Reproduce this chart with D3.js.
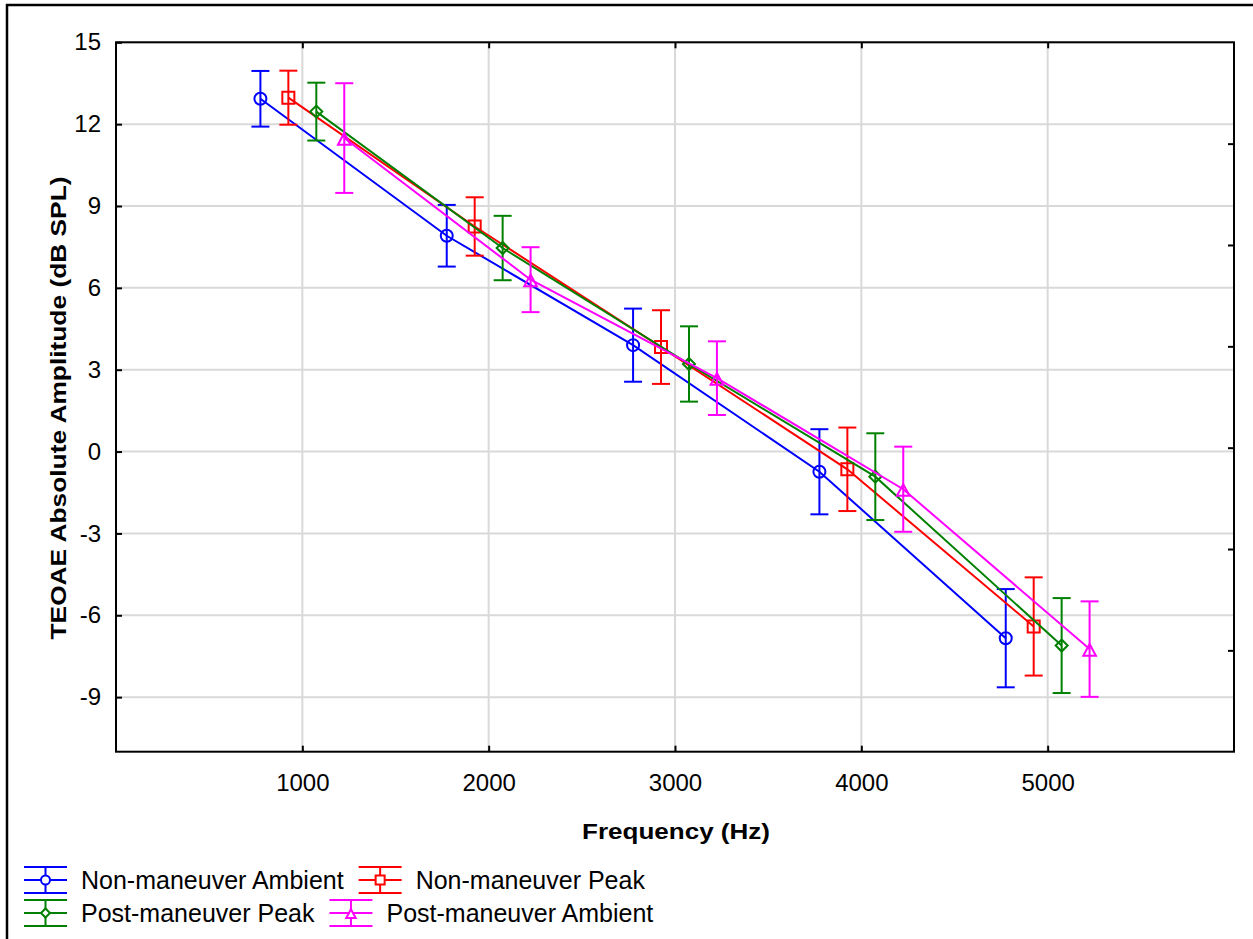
<!DOCTYPE html>
<html>
<head>
<meta charset="utf-8">
<title>TEOAE Absolute Amplitude</title>
<script src="https://d3js.org/d3.v7.min.js"></script>
<style>
body { margin: 0; background: #fff; }
text { font-family: Arial, "Liberation Sans", sans-serif; fill: #000; }
</style>
</head>
<body>
<div id="container"></div>
<script>
//--------------------------- DATA ---------------------------//
const frequencies = [1000, 2000, 3000, 4000, 5000];
const seriesNames = ["Non-maneuver Ambient", "Non-maneuver Peak", "Post-maneuver Peak", "Post-maneuver Ambient"];
// each series is drawn a little beside the real frequency (Hz offset)
const dodgeHz = [-225, -75, 75, 225];

const nonAmbient     = [12.93, 7.91, 3.90, -0.74, -6.84];
const nonAmbientErr  = [1.02, 1.13, 1.34, 1.56, 1.80];
const nonPeak        = [12.97, 8.25, 3.83, -0.65, -6.41];
const nonPeakErr     = [0.99, 1.07, 1.35, 1.53, 1.80];
const postPeak       = [12.46, 7.46, 3.21, -0.92, -7.11];
const postPeakErr    = [1.06, 1.18, 1.38, 1.59, 1.74];
const postAmbient    = [11.49, 6.30, 2.69, -1.38, -7.24];
const postAmbientErr = [2.01, 1.19, 1.35, 1.56, 1.75];

const yTicks = [-9, -6, -3, 0, 3, 6, 9, 12, 15];
const xTicks = [1000, 2000, 3000, 4000, 5000];

const colors = ["#0000ff", "#ff0000", "#008000", "#ff00ff"];
const shapes = ["circle", "square", "diamond", "triangle"];

const series = [
  {name: seriesNames[0], means: nonAmbient,  errs: nonAmbientErr},
  {name: seriesNames[1], means: nonPeak,     errs: nonPeakErr},
  {name: seriesNames[2], means: postPeak,    errs: postPeakErr},
  {name: seriesNames[3], means: postAmbient, errs: postAmbientErr}
].map((s, i) => ({
  ...s, color: colors[i], shape: shapes[i],
  values: frequencies.map((f, j) => ({f: f + dodgeHz[i], m: s.means[j], e: s.errs[j]}))
}));

//--------------------------- SVG ---------------------------//
const W = 1253, H = 939;
const plotLeft = 116, plotRight = 1234, plotTop = 42.3, plotBottom = 751.7;

const svg = d3.select("#container").append("svg")
  .attr("width", W).attr("height", H);

// outer frame (cut by the right and bottom edges)
svg.append("rect")
  .attr("x", 7).attr("y", 5).attr("width", 1260).attr("height", 960)
  .attr("fill", "none").attr("stroke", "#000").attr("stroke-width", 2.5);

const x = d3.scaleLinear().domain([0, 6000]).range([plotLeft, plotRight]);
const y = d3.scaleLinear().domain([-11, 15]).range([plotBottom, plotTop]);
const yRight = d3.scaleLinear().domain([0, 7]).range([plotBottom, plotTop]);

//--------------------------- GRID ---------------------------//
const grid = svg.append("g").attr("stroke", "#d9d9d9").attr("stroke-width", 2);
grid.selectAll(".gx").data(xTicks).join("line")
  .attr("x1", d => x(d)).attr("x2", d => x(d))
  .attr("y1", plotTop).attr("y2", plotBottom);
grid.selectAll(".gy").data(yTicks).join("line")
  .attr("x1", plotLeft).attr("x2", plotRight)
  .attr("y1", d => y(d)).attr("y2", d => y(d));

//--------------------------- AXES ---------------------------//
const plain = d => String(d);
const yAxis = d3.axisLeft(y).tickValues(yTicks).tickFormat(plain)
  .tickSizeInner(-6).tickSizeOuter(0).tickPadding(15);
const xAxis = d3.axisBottom(x).tickValues(xTicks).tickFormat(plain)
  .tickSizeInner(-6).tickSizeOuter(0).tickPadding(22);
const xTop = d3.axisTop(x).tickValues(xTicks).tickSizeInner(-6).tickSizeOuter(0).tickFormat("");
const yRightAxis = d3.axisRight(yRight).tickValues([1, 2, 3, 4, 5, 6]).tickSizeInner(-6).tickSizeOuter(0).tickFormat("");

function styleAxis(g) {
  g.select(".domain").remove();
  g.selectAll(".tick line").attr("stroke", "#000").attr("stroke-width", 2);
  g.selectAll(".tick text")
    .style("font-family", "Arial, 'Liberation Sans', sans-serif")
    .style("font-size", "24px").attr("fill", "#000");
}

svg.append("g").attr("transform", `translate(${plotLeft},0)`).call(yAxis).call(styleAxis);
svg.append("g").attr("transform", `translate(0,${plotBottom})`).call(xAxis).call(styleAxis);
svg.append("g").attr("transform", `translate(0,${plotTop})`).call(xTop).call(styleAxis);
svg.append("g").attr("transform", `translate(${plotRight},0)`).call(yRightAxis).call(styleAxis);

svg.append("rect")
  .attr("x", plotLeft).attr("y", plotTop)
  .attr("width", plotRight - plotLeft).attr("height", plotBottom - plotTop)
  .attr("fill", "none").attr("stroke", "#000").attr("stroke-width", 2);

// axis titles
svg.append("text")
  .attr("x", 676).attr("y", 839)
  .attr("text-anchor", "middle")
  .style("font-size", "22px").style("font-weight", "bold")
  .attr("textLength", 188).attr("lengthAdjust", "spacingAndGlyphs")
  .text("Frequency (Hz)");

svg.append("text")
  .attr("transform", "translate(66,408) rotate(-90)")
  .attr("text-anchor", "middle")
  .style("font-size", "22px").style("font-weight", "bold")
  .attr("textLength", 463).attr("lengthAdjust", "spacingAndGlyphs")
  .text("TEOAE Absolute Amplitude (dB SPL)");

//--------------------------- MARKERS ---------------------------//
function markerPath(shape, s) {
  // s = half size
  if (shape === "circle") {
    return `M${-s},0a${s},${s} 0 1,0 ${2 * s},0a${s},${s} 0 1,0 ${-2 * s},0Z`;
  }
  if (shape === "square") return `M${-s},${-s}H${s}V${s}H${-s}Z`;
  if (shape === "diamond") return `M0,${-s}L${s},0L0,${s}L${-s},0Z`;
  // triangle sits a bit low, as in the original
  return `M0,${-s * 0.85}L${s * 1.05},${s * 1.1}L${-s * 1.05},${s * 1.1}Z`;
}

//--------------------------- SERIES ---------------------------//
const line = d3.line().x(d => x(d.f)).y(d => y(d.m));
const capHalf = 9;

const groups = svg.selectAll(".series").data(series).join("g").attr("class", "series");

groups.append("path")
  .attr("d", d => line(d.values))
  .attr("fill", "none").attr("stroke", d => d.color).attr("stroke-width", 2);

groups.each(function(s) {
  const g = d3.select(this);
  const bars = g.selectAll(".err").data(s.values).join("g")
    .attr("stroke", s.color).attr("stroke-width", 2);
  bars.append("line")
    .attr("x1", d => x(d.f)).attr("x2", d => x(d.f))
    .attr("y1", d => y(d.m + d.e)).attr("y2", d => y(d.m - d.e));
  bars.append("line")
    .attr("x1", d => x(d.f) - capHalf).attr("x2", d => x(d.f) + capHalf)
    .attr("y1", d => y(d.m + d.e)).attr("y2", d => y(d.m + d.e));
  bars.append("line")
    .attr("x1", d => x(d.f) - capHalf).attr("x2", d => x(d.f) + capHalf)
    .attr("y1", d => y(d.m - d.e)).attr("y2", d => y(d.m - d.e));

  g.selectAll(".mk").data(s.values).join("path")
    .attr("transform", d => `translate(${x(d.f)},${y(d.m)})`)
    .attr("d", markerPath(s.shape, 6))
    .attr("fill", "none").attr("stroke", s.color).attr("stroke-width", 2);
});

//--------------------------- LEGEND ---------------------------//
const legendRows = [[0, 1], [2, 3]];
const rowY = [880, 913];
const symW = 43, symH = 13;

legendRows.forEach((row, r) => {
  let cx = 24;
  row.forEach(i => {
    const s = series[i];
    const g = svg.append("g").attr("stroke", s.color).attr("stroke-width", 2).attr("fill", "none");
    const yc = rowY[r];
    [-symH, 0, symH].forEach(dy => {
      g.append("line").attr("x1", cx).attr("x2", cx + symW).attr("y1", yc + dy).attr("y2", yc + dy);
    });
    g.append("line").attr("x1", cx + symW / 2).attr("x2", cx + symW / 2)
      .attr("y1", yc - symH).attr("y2", yc + symH);
    g.append("path")
      .attr("transform", `translate(${cx + symW / 2},${yc})`)
      .attr("d", markerPath(s.shape, 4.5))
      .attr("fill", "#fff");
    const t = svg.append("text")
      .attr("x", cx + symW + 14).attr("y", yc + 9)
      .style("font-size", "25px")
      .text(s.name);
    cx = cx + symW + 14 + t.node().getComputedTextLength() + 15;
  });
});
</script>
</body>
</html>
